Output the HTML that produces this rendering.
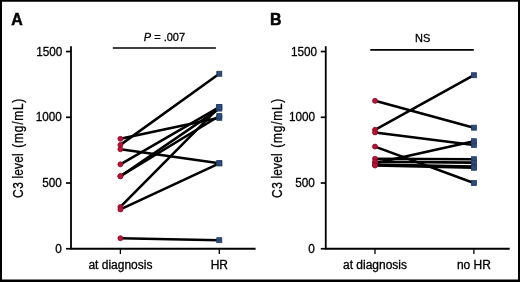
<!DOCTYPE html>
<html><head><meta charset="utf-8"><title>C3 level</title>
<style>
html,body{margin:0;padding:0;background:#fff;}
body{width:520px;height:282px;overflow:hidden;position:relative;}
svg{display:block;position:absolute;left:0;top:0;font-family:"Liberation Sans",Arial,Helvetica,sans-serif;fill:#000;}
text{stroke:#000;stroke-width:0.3px;}
</style></head><body>
<svg width="520" height="282" viewBox="0 0 520 282">
<rect x="0" y="0" width="520" height="282" fill="#fff"/>
<g>
<path d="M-6 -6H526V288H-6Z M2 1.8V279.6H518V1.8Z" fill="#000" fill-rule="evenodd"/>
<text transform="translate(11.3 25.2) scale(0.95 1)" font-size="16.8" font-weight="bold" style="stroke-width:0.5px">A</text>
<path d="M71.0 46.3V248.75M70.1 248.75H255.6" stroke="#000" stroke-width="1.8" fill="none"/>
<path d="M66.0 248.75H71.0" stroke="#000" stroke-width="1.7"/>
<text transform="translate(61.70 252.85) scale(0.98 1)" font-size="12" text-anchor="end">0</text>
<path d="M66.0 183.01H71.0" stroke="#000" stroke-width="1.7"/>
<text transform="translate(61.90 187.11) scale(0.98 1)" font-size="12" text-anchor="end">500</text>
<path d="M66.0 117.28H71.0" stroke="#000" stroke-width="1.7"/>
<text transform="translate(61.90 121.38) scale(0.98 1)" font-size="12" text-anchor="end">1000</text>
<path d="M66.0 51.54H71.0" stroke="#000" stroke-width="1.7"/>
<text transform="translate(62.30 55.64) scale(0.98 1)" font-size="12" text-anchor="end">1500</text>
<path d="M120.4 248.75V254.05" stroke="#000" stroke-width="1.3"/>
<path d="M219.3 248.75V254.05" stroke="#000" stroke-width="1.3"/>
<text x="120.4" y="269" font-size="12" text-anchor="middle">at diagnosis</text>
<text x="219.3" y="269" font-size="12" text-anchor="middle">HR</text>
<text transform="translate(23.4 198.0) rotate(-90) scale(0.85 1)" font-size="14" letter-spacing="0.66" text-anchor="start">C3</text>
<text transform="translate(23.4 178.6) rotate(-90) scale(0.85 1)" font-size="14" letter-spacing="0.25" text-anchor="start">level</text>
<text transform="translate(23.4 98.0) rotate(-90) scale(0.85 1)" font-size="14" letter-spacing="0.9" text-anchor="end">(mg/mL)</text>
<path d="M112.8 48.0H215.9" stroke="#000" stroke-width="1.7"/>
<text transform="translate(164.4 41.4) scale(0.95 1)" font-size="11.6" text-anchor="middle"><tspan font-style="italic">P</tspan> = .007</text>
<path d="M120.4 138.84L219.3 117.81" stroke="#000" stroke-width="2.55"/>
<path d="M120.4 144.89L219.3 73.76" stroke="#000" stroke-width="2.55"/>
<path d="M120.4 149.23L219.3 163.29" stroke="#000" stroke-width="2.55"/>
<path d="M120.4 164.35L219.3 107.03" stroke="#000" stroke-width="2.55"/>
<path d="M120.4 176.18L219.3 108.60" stroke="#000" stroke-width="2.55"/>
<path d="M120.4 176.18L219.3 115.97" stroke="#000" stroke-width="2.55"/>
<path d="M120.4 206.94L219.3 107.03" stroke="#000" stroke-width="2.55"/>
<path d="M120.4 209.44L219.3 163.29" stroke="#000" stroke-width="2.55"/>
<path d="M120.4 238.23L219.3 240.20" stroke="#000" stroke-width="2.55"/>
<circle cx="120.4" cy="138.84" r="2.5" fill="#b81236" stroke="#8c0c28" stroke-width="0.8"/>
<rect x="216.8" y="115.31" width="5.0" height="5.0" fill="#2d4a7a" stroke="#213a62" stroke-width="0.8"/>
<circle cx="120.4" cy="144.89" r="2.5" fill="#b81236" stroke="#8c0c28" stroke-width="0.8"/>
<rect x="216.8" y="71.26" width="5.0" height="5.0" fill="#2d4a7a" stroke="#213a62" stroke-width="0.8"/>
<circle cx="120.4" cy="149.23" r="2.5" fill="#b81236" stroke="#8c0c28" stroke-width="0.8"/>
<rect x="216.8" y="160.79" width="5.0" height="5.0" fill="#2d4a7a" stroke="#213a62" stroke-width="0.8"/>
<circle cx="120.4" cy="164.35" r="2.5" fill="#b81236" stroke="#8c0c28" stroke-width="0.8"/>
<rect x="216.8" y="104.53" width="5.0" height="5.0" fill="#2d4a7a" stroke="#213a62" stroke-width="0.8"/>
<circle cx="120.4" cy="176.18" r="2.5" fill="#b81236" stroke="#8c0c28" stroke-width="0.8"/>
<rect x="216.8" y="106.10" width="5.0" height="5.0" fill="#2d4a7a" stroke="#213a62" stroke-width="0.8"/>
<circle cx="120.4" cy="176.18" r="2.5" fill="#b81236" stroke="#8c0c28" stroke-width="0.8"/>
<rect x="216.8" y="113.47" width="5.0" height="5.0" fill="#2d4a7a" stroke="#213a62" stroke-width="0.8"/>
<circle cx="120.4" cy="206.94" r="2.5" fill="#b81236" stroke="#8c0c28" stroke-width="0.8"/>
<rect x="216.8" y="104.53" width="5.0" height="5.0" fill="#2d4a7a" stroke="#213a62" stroke-width="0.8"/>
<circle cx="120.4" cy="209.44" r="2.5" fill="#b81236" stroke="#8c0c28" stroke-width="0.8"/>
<rect x="216.8" y="160.79" width="5.0" height="5.0" fill="#2d4a7a" stroke="#213a62" stroke-width="0.8"/>
<circle cx="120.4" cy="238.23" r="2.5" fill="#b81236" stroke="#8c0c28" stroke-width="0.8"/>
<rect x="216.8" y="237.70" width="5.0" height="5.0" fill="#2d4a7a" stroke="#213a62" stroke-width="0.8"/>
<text transform="translate(269.9 25.2) scale(0.95 1)" font-size="16.8" font-weight="bold" style="stroke-width:0.5px">B</text>
<path d="M325.75 46.3V248.75M324.85 248.75H509.7" stroke="#000" stroke-width="1.8" fill="none"/>
<path d="M320.75 248.75H325.75" stroke="#000" stroke-width="1.7"/>
<text transform="translate(314.75 252.85) scale(0.98 1)" font-size="12" text-anchor="end">0</text>
<path d="M320.75 183.01H325.75" stroke="#000" stroke-width="1.7"/>
<text transform="translate(314.85 187.11) scale(0.98 1)" font-size="12" text-anchor="end">500</text>
<path d="M320.75 117.28H325.75" stroke="#000" stroke-width="1.7"/>
<text transform="translate(315.15 121.38) scale(0.98 1)" font-size="12" text-anchor="end">1000</text>
<path d="M320.75 51.54H325.75" stroke="#000" stroke-width="1.7"/>
<text transform="translate(317.05 55.64) scale(0.98 1)" font-size="12" text-anchor="end">1500</text>
<path d="M375.0 248.75V254.05" stroke="#000" stroke-width="1.3"/>
<path d="M473.9 248.75V254.05" stroke="#000" stroke-width="1.3"/>
<text x="375.0" y="269" font-size="12" text-anchor="middle">at diagnosis</text>
<text x="473.9" y="269" font-size="12" text-anchor="middle">no HR</text>
<text transform="translate(281.84999999999997 198.0) rotate(-90) scale(0.85 1)" font-size="14" letter-spacing="0.66" text-anchor="start">C3</text>
<text transform="translate(281.84999999999997 178.6) rotate(-90) scale(0.85 1)" font-size="14" letter-spacing="0.25" text-anchor="start">level</text>
<text transform="translate(281.84999999999997 98.0) rotate(-90) scale(0.85 1)" font-size="14" letter-spacing="0.9" text-anchor="end">(mg/mL)</text>
<path d="M370.3 49.8H473.8" stroke="#000" stroke-width="1.7"/>
<text transform="translate(422.6 42.2) scale(0.95 1)" font-size="11.6" text-anchor="middle">NS</text>
<path d="M375.0 100.85L473.9 127.67" stroke="#000" stroke-width="2.55"/>
<path d="M375.0 129.77L473.9 75.21" stroke="#000" stroke-width="2.55"/>
<path d="M375.0 132.40L473.9 144.89" stroke="#000" stroke-width="2.55"/>
<path d="M375.0 146.60L473.9 183.01" stroke="#000" stroke-width="2.55"/>
<path d="M375.0 163.16L473.9 141.21" stroke="#000" stroke-width="2.55"/>
<path d="M375.0 158.69L473.9 159.22" stroke="#000" stroke-width="2.55"/>
<path d="M375.0 161.85L473.9 162.64" stroke="#000" stroke-width="2.55"/>
<path d="M375.0 164.61L473.9 166.45" stroke="#000" stroke-width="2.55"/>
<path d="M375.0 165.53L473.9 167.76" stroke="#000" stroke-width="2.55"/>
<circle cx="375.0" cy="100.85" r="2.5" fill="#b81236" stroke="#8c0c28" stroke-width="0.8"/>
<rect x="471.4" y="125.17" width="5.0" height="5.0" fill="#2d4a7a" stroke="#213a62" stroke-width="0.8"/>
<circle cx="375.0" cy="129.77" r="2.5" fill="#b81236" stroke="#8c0c28" stroke-width="0.8"/>
<rect x="471.4" y="72.71" width="5.0" height="5.0" fill="#2d4a7a" stroke="#213a62" stroke-width="0.8"/>
<circle cx="375.0" cy="132.40" r="2.5" fill="#b81236" stroke="#8c0c28" stroke-width="0.8"/>
<rect x="471.4" y="142.39" width="5.0" height="5.0" fill="#2d4a7a" stroke="#213a62" stroke-width="0.8"/>
<circle cx="375.0" cy="146.60" r="2.5" fill="#b81236" stroke="#8c0c28" stroke-width="0.8"/>
<rect x="471.4" y="180.51" width="5.0" height="5.0" fill="#2d4a7a" stroke="#213a62" stroke-width="0.8"/>
<circle cx="375.0" cy="163.16" r="2.5" fill="#b81236" stroke="#8c0c28" stroke-width="0.8"/>
<rect x="471.4" y="138.71" width="5.0" height="5.0" fill="#2d4a7a" stroke="#213a62" stroke-width="0.8"/>
<circle cx="375.0" cy="158.69" r="2.5" fill="#b81236" stroke="#8c0c28" stroke-width="0.8"/>
<rect x="471.4" y="156.72" width="5.0" height="5.0" fill="#2d4a7a" stroke="#213a62" stroke-width="0.8"/>
<circle cx="375.0" cy="161.85" r="2.5" fill="#b81236" stroke="#8c0c28" stroke-width="0.8"/>
<rect x="471.4" y="160.14" width="5.0" height="5.0" fill="#2d4a7a" stroke="#213a62" stroke-width="0.8"/>
<circle cx="375.0" cy="164.61" r="2.5" fill="#b81236" stroke="#8c0c28" stroke-width="0.8"/>
<rect x="471.4" y="163.95" width="5.0" height="5.0" fill="#2d4a7a" stroke="#213a62" stroke-width="0.8"/>
<circle cx="375.0" cy="165.53" r="2.5" fill="#b81236" stroke="#8c0c28" stroke-width="0.8"/>
<rect x="471.4" y="165.26" width="5.0" height="5.0" fill="#2d4a7a" stroke="#213a62" stroke-width="0.8"/>
</g>
</svg>
</body></html>
